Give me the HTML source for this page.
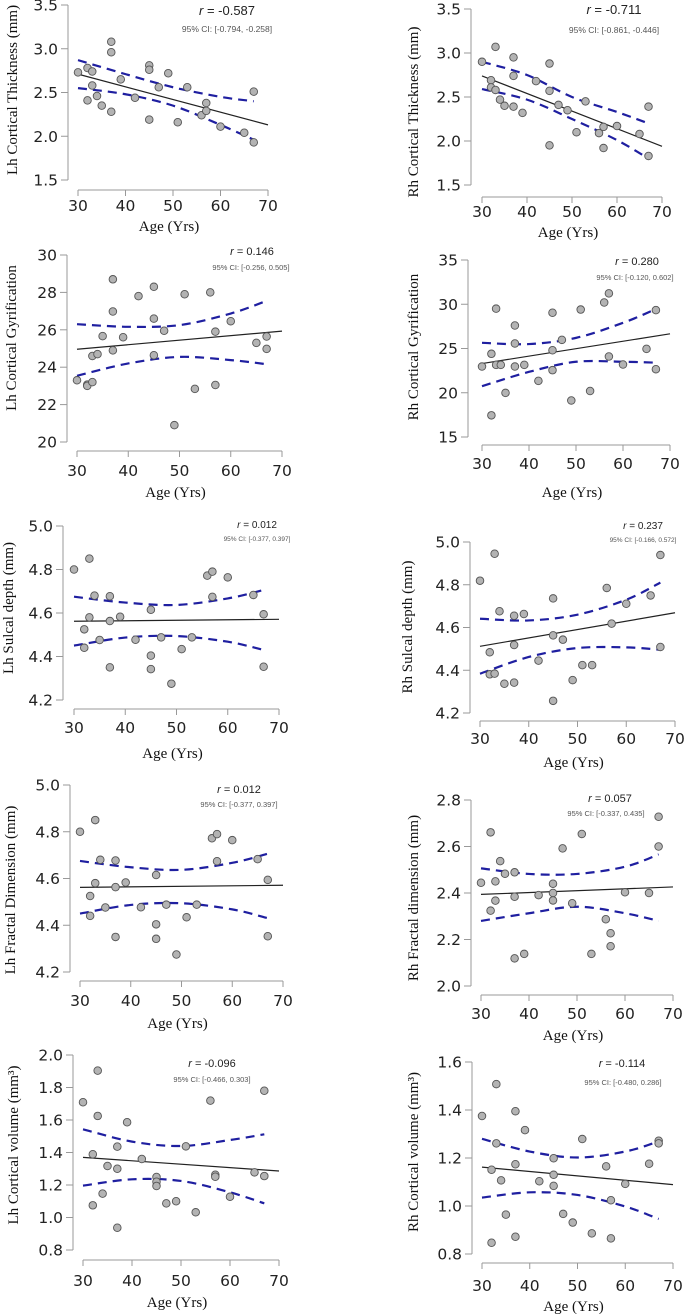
<!DOCTYPE html>
<html><head><meta charset="utf-8">
<style>
html,body{margin:0;padding:0;background:#fff;}
svg{display:block;}
.tk{font-family:"DejaVu Sans","Liberation Sans",sans-serif;font-size:15.5px;fill:#222;}
.tt{font-family:"Liberation Serif",serif;font-size:15px;fill:#111;}
.rl{font-family:"Liberation Sans",sans-serif;fill:#222;}
.ci{font-family:"Liberation Sans",sans-serif;fill:#555;}
</style></head>
<body>
<svg id="fig" width="685" height="1314" viewBox="0 0 685 1314" xmlns="http://www.w3.org/2000/svg"></svg>
<script>
// ---- data (ages in years, values per measure) ----
const ciAges = [30, 40, 50, 60, 67];
const xTicks = [30, 40, 50, 60, 70];

const p1Ages = [30,32,32,33,33,34,35,37,37,37,39,42,45,45,45,47,49,51,53,56,57,57,60,65,67,67];
const p1Vals = [2.73,2.78,2.41,2.74,2.58,2.46,2.35,3.08,2.96,2.28,2.65,2.44,2.81,2.76,2.19,2.56,2.72,2.16,2.56,2.24,2.38,2.29,2.11,2.04,1.93,2.51];
const p1Fit = [2.71, 2.13];
const p1Up = [2.87, 2.71, 2.56, 2.45, 2.40];
const p1Lo = [2.55, 2.48, 2.35, 2.13, 1.96];
const p1YTicks = [3.5, 3.0, 2.5, 2.0, 1.5];

const p2Ages = [30,32,32,33,33,34,35,37,37,37,39,42,45,45,45,47,49,51,53,56,57,57,60,65,67,67];
const p2Vals = [2.90,2.69,2.61,3.07,2.58,2.47,2.40,2.95,2.74,2.39,2.32,2.68,2.88,2.57,1.95,2.41,2.35,2.10,2.45,2.09,2.16,1.92,2.17,2.08,2.39,1.83];
const p2Fit = [2.74, 1.94];
const p2Up = [2.90, 2.75, 2.50, 2.33, 2.20];
const p2Lo = [2.59, 2.47, 2.25, 2.01, 1.80];
const p2YTicks = [3.5, 3.0, 2.5, 2.0, 1.5];

const p3Ages = [30,32,32,33,33,34,35,37,37,37,39,42,45,45,45,47,49,51,53,56,57,57,60,65,67,67];
const p3Vals = [23.3,23.07,23.0,23.2,24.6,24.7,25.66,28.7,26.98,24.9,25.6,27.8,28.3,26.6,24.64,25.95,20.9,27.9,22.84,28.0,25.9,23.05,26.46,25.3,25.64,24.98];
const p3Fit = [24.96, 25.93];
const p3Up = [26.3, 26.16, 26.25, 26.87, 27.55];
const p3Lo = [23.54, 24.2, 24.55, 24.38, 24.16];
const p3YTicks = [30, 28, 26, 24, 22, 20];

const p4Ages = [30,32,32,33,33,34,35,37,37,37,39,42,45,45,45,47,49,51,53,56,57,57,60,65,67,67];
const p4Vals = [22.96,24.4,17.45,29.5,23.15,23.15,19.98,27.6,25.57,22.96,23.15,21.34,29.04,24.8,22.55,25.98,19.13,29.4,20.2,30.2,31.23,24.1,23.19,24.96,29.34,22.66];
const p4Fit = [23.3, 26.66];
const p4Up = [25.64, 25.5, 26.2, 27.9, 29.45];
const p4Lo = [20.74, 22.36, 23.5, 23.5, 23.4];
const p4YTicks = [35, 30, 25, 20, 15];

const p5Ages = [30,32,32,33,33,34,35,37,37,37,39,42,45,45,45,47,49,51,53,56,57,57,60,65,67,67];
const p5Vals = [4.80,4.525,4.44,4.85,4.58,4.68,4.476,4.677,4.563,4.35,4.583,4.477,4.615,4.404,4.342,4.488,4.275,4.434,4.488,4.772,4.79,4.674,4.764,4.683,4.594,4.353];
const p5Fit = [4.562, 4.571];
const p5Up = [4.675, 4.648, 4.637, 4.667, 4.706];
const p5Lo = [4.45, 4.487, 4.494, 4.468, 4.43];
const p5YTicks = [5.0, 4.8, 4.6, 4.4, 4.2];

const p6Ages = [30,32,32,33,33,34,35,37,37,37,39,42,45,45,45,47,49,51,53,56,57,60,65,67,67];
const p6Vals = [4.819,4.484,4.381,4.945,4.384,4.676,4.337,4.655,4.518,4.342,4.663,4.445,4.736,4.563,4.257,4.543,4.354,4.424,4.424,4.785,4.618,4.711,4.75,4.939,4.509];
const p6Fit = [4.512, 4.669];
const p6Up = [4.641, 4.633, 4.66, 4.73, 4.81];
const p6Lo = [4.384, 4.462, 4.504, 4.507, 4.496];
const p6YTicks = [5.0, 4.8, 4.6, 4.4, 4.2];

const p7Ages = [30,32,32,33,33,34,35,37,37,37,39,42,45,45,45,47,49,51,53,56,57,57,60,65,67,67];
const p7Vals = [4.80,4.525,4.44,4.85,4.58,4.68,4.476,4.677,4.563,4.35,4.583,4.477,4.615,4.404,4.342,4.488,4.275,4.434,4.488,4.772,4.79,4.674,4.764,4.683,4.594,4.353];
const p7Fit = [4.562, 4.571];
const p7Up = [4.675, 4.648, 4.637, 4.667, 4.706];
const p7Lo = [4.45, 4.487, 4.494, 4.468, 4.43];
const p7YTicks = [5.0, 4.8, 4.6, 4.4, 4.2];

const p8Ages = [30,32,32,33,33,34,35,37,37,37,39,42,45,45,45,47,49,51,53,56,57,57,60,65,67,67];
const p8Vals = [2.444,2.324,2.661,2.45,2.367,2.537,2.483,2.489,2.384,2.119,2.138,2.391,2.44,2.40,2.368,2.592,2.356,2.654,2.138,2.287,2.227,2.171,2.403,2.40,2.728,2.60];
const p8Fit = [2.394, 2.426];
const p8Up = [2.506, 2.482, 2.482, 2.513, 2.566];
const p8Lo = [2.28, 2.313, 2.341, 2.313, 2.28];
const p8YTicks = [2.8, 2.6, 2.4, 2.2, 2.0];

const p9Ages = [30,32,32,33,33,34,35,37,37,37,39,42,45,45,45,47,49,51,53,56,57,57,60,65,67,67];
const p9Vals = [1.709,1.389,1.075,1.904,1.625,1.147,1.317,1.436,1.30,0.937,1.586,1.36,1.249,1.22,1.194,1.087,1.10,1.438,1.032,1.719,1.263,1.251,1.128,1.278,1.255,1.78];
const p9Fit = [1.37, 1.286];
const p9Up = [1.543, 1.467, 1.44, 1.477, 1.512];
const p9Lo = [1.196, 1.235, 1.225, 1.155, 1.087];
const p9YTicks = [2.0, 1.8, 1.6, 1.4, 1.2, 1.0, 0.8];

const p10Ages = [30,32,32,33,33,34,35,37,37,37,39,42,45,45,45,47,49,51,53,56,57,57,60,65,67,67];
const p10Vals = [1.375,1.151,0.847,1.508,1.261,1.107,0.964,1.395,1.174,0.872,1.316,1.103,1.199,1.13,1.084,0.967,0.931,1.279,0.886,1.165,1.024,0.865,1.092,1.176,1.272,1.261];
const p10Fit = [1.162, 1.089];
const p10Up = [1.28, 1.227, 1.202, 1.227, 1.269];
const p10Lo = [1.035, 1.057, 1.046, 0.998, 0.946];
const p10YTicks = [1.6, 1.4, 1.2, 1.0, 0.8];

// ---- layout (pixel geometry) ----
const NS = 'http://www.w3.org/2000/svg';
const svg = document.getElementById('fig');
function mk(tag, attrs, parent, text) {
  const e = document.createElementNS(NS, tag);
  for (const k in attrs) e.setAttribute(k, attrs[k]);
  if (text !== undefined) e.textContent = text;
  parent.appendChild(e);
  return e;
}

const panels = [
  {key:'lh-cortical-thickness', ages:p1Ages, vals:p1Vals, fit:p1Fit, up:p1Up, lo:p1Lo, yt:p1YTicks, ydec:1,
   ax:68, x0:78, x1:268, yTop:5, yBot:180, xLine:190, xLab:211, ageY:231, title:'Lh Cortical Thickness (mm)', tX:12, tY:90,
   r:'-0.587', ci:'[-0.794, -0.258]', rX:227, rY:15, ciX:227, ciY:32, rs:13, cs:8.5},
  {key:'rh-cortical-thickness', ages:p2Ages, vals:p2Vals, fit:p2Fit, up:p2Up, lo:p2Lo, yt:p2YTicks, ydec:1,
   ax:471, x0:482, x1:662, yTop:9, yBot:185, xLine:197, xLab:217, ageY:237, title:'Rh Cortical Thickness (mm)', tX:413, tY:112,
   r:'-0.711', ci:'[-0.861, -0.446]', rX:614, rY:14, ciX:614, ciY:33, rs:13, cs:8.5},
  {key:'lh-cortical-gyrification', ages:p3Ages, vals:p3Vals, fit:p3Fit, up:p3Up, lo:p3Lo, yt:p3YTicks, ydec:0,
   ax:67, x0:77, x1:282, yTop:255, yBot:442, xLine:451, xLab:476, ageY:497, title:'Lh Cortical Gyrification', tX:11, tY:338,
   r:'0.146', ci:'[-0.256, 0.505]', rX:252, rY:255, ciX:251, ciY:270, rs:11, cs:7.5},
  {key:'rh-cortical-gyrification', ages:p4Ages, vals:p4Vals, fit:p4Fit, up:p4Up, lo:p4Lo, yt:p4YTicks, ydec:0,
   ax:468, x0:482, x1:670, yTop:260, yBot:437, xLine:445, xLab:469, ageY:497, title:'Rh Cortical Gyrification', tX:413, tY:347,
   r:'0.280', ci:'[-0.120, 0.602]', rX:637, rY:265, ciX:635, ciY:280, rs:11, cs:7.5},
  {key:'lh-sulcal-depth', ages:p5Ages, vals:p5Vals, fit:p5Fit, up:p5Up, lo:p5Lo, yt:p5YTicks, ydec:1,
   ax:63, x0:74, x1:279, yTop:526, yBot:700, xLine:709, xLab:733, ageY:758, title:'Lh Sulcal depth (mm)', tX:8, tY:608,
   r:'0.012', ci:'[-0.377, 0.397]', rX:257, rY:528, ciX:257, ciY:541, rs:10, cs:6.5},
  {key:'rh-sulcal-depth', ages:p6Ages, vals:p6Vals, fit:p6Fit, up:p6Up, lo:p6Lo, yt:p6YTicks, ydec:1,
   ax:470, x0:480, x1:675, yTop:542, yBot:713, xLine:721, xLab:744, ageY:767, title:'Rh Sulcal depth (mm)', tX:407, tY:627,
   r:'0.237', ci:'[-0.166, 0.572]', rX:643, rY:529, ciX:643, ciY:542, rs:10, cs:6.5},
  {key:'lh-fractal-dimension', ages:p7Ages, vals:p7Vals, fit:p7Fit, up:p7Up, lo:p7Lo, yt:p7YTicks, ydec:1,
   ax:70, x0:80, x1:283, yTop:785, yBot:972, xLine:981, xLab:1006, ageY:1028, title:'Lh Fractal Dimension (mm)', tX:10, tY:890,
   r:'0.012', ci:'[-0.377, 0.397]', rX:239, rY:793, ciX:239, ciY:807, rs:11, cs:7.5},
  {key:'rh-fractal-dimension', ages:p8Ages, vals:p8Vals, fit:p8Fit, up:p8Up, lo:p8Lo, yt:p8YTicks, ydec:1,
   ax:471, x0:481, x1:673, yTop:800, yBot:986, xLine:995, xLab:1019, ageY:1040, title:'Rh Fractal dimension (mm)', tX:413, tY:898,
   r:'0.057', ci:'[-0.337, 0.435]', rX:610, rY:802, ciX:606, ciY:816, rs:11, cs:7.5},
  {key:'lh-cortical-volume', ages:p9Ages, vals:p9Vals, fit:p9Fit, up:p9Up, lo:p9Lo, yt:p9YTicks, ydec:1,
   ax:73, x0:83, x1:279, yTop:1055, yBot:1250, xLine:1260, xLab:1286, ageY:1307, title:'Lh Cortical volume (mm³)', tX:13, tY:1145,
   r:'-0.096', ci:'[-0.466, 0.303]', rX:212, rY:1067, ciX:212, ciY:1082, rs:11, cs:7.5},
  {key:'rh-cortical-volume', ages:p10Ages, vals:p10Vals, fit:p10Fit, up:p10Up, lo:p10Lo, yt:p10YTicks, ydec:1,
   ax:472, x0:482, x1:673, yTop:1062, yBot:1254, xLine:1263, xLab:1291, ageY:1311, title:'Rh Cortical volume (mm³)', tX:413, tY:1152,
   r:'-0.114', ci:'[-0.480, 0.286]', rX:622, rY:1067, ciX:623, ciY:1085, rs:11, cs:7.5}
];

panels.forEach(p => {
  const g = mk('g', {}, svg);
  
  
  const yMax = p.yt[0], yMin = p.yt[p.yt.length - 1];
  const X = a => p.x0 + (a - 30) / 40 * (p.x1 - p.x0);
  const Y = v => p.yTop + (yMax - v) / (yMax - yMin) * (p.yBot - p.yTop);

  const ya = mk('g', {}, g);
  
  
  mk('line', {x1:p.ax, y1:Y(yMax), x2:p.ax, y2:Y(yMin), stroke:'#999', 'stroke-width':1}, ya);
  p.yt.forEach(t => {
    mk('line', {x1:p.ax - 7, y1:Y(t), x2:p.ax, y2:Y(t), stroke:'#999', 'stroke-width':1}, ya);
    const tl = mk('text', {x:p.ax - 10, y:Y(t) + 5.5, 'text-anchor':'end', class:'tk'}, ya, t.toFixed(p.ydec));
    
    
  });
  const xa = mk('g', {}, g);
  
  
  mk('line', {x1:X(30), y1:p.xLine, x2:X(70), y2:p.xLine, stroke:'#999', 'stroke-width':1}, xa);
  xTicks.forEach(t => {
    mk('line', {x1:X(t), y1:p.xLine, x2:X(t), y2:p.xLine + 6, stroke:'#999', 'stroke-width':1}, xa);
    const tl = mk('text', {x:X(t), y:p.xLab, 'text-anchor':'middle', class:'tk'}, xa, String(t));
    
    
  });
  const at = mk('text', {x:(X(30) + X(70)) / 2 - 4, y:p.ageY, 'text-anchor':'middle', class:'tt'}, g, 'Age (Yrs)');
  
  
  const yt = mk('text', {x:p.tX + 5, y:p.tY, 'text-anchor':'middle', class:'tt', transform:'rotate(-90 ' + (p.tX + 5) + ' ' + p.tY + ')'}, g, p.title);
  
  

  function curve(arr) {
    const pts = ciAges.map((a, i) => [X(a), Y(arr[i])]);
    let d = 'M' + pts[0][0] + ',' + pts[0][1];
    for (let i = 0; i < pts.length - 1; i++) {
      const p0 = pts[Math.max(i - 1, 0)], p1 = pts[i], p2 = pts[i + 1], p3 = pts[Math.min(i + 2, pts.length - 1)];
      const c1x = p1[0] + (p2[0] - p0[0]) / 6, c1y = p1[1] + (p2[1] - p0[1]) / 6;
      const c2x = p2[0] - (p3[0] - p1[0]) / 6, c2y = p2[1] - (p3[1] - p1[1]) / 6;
      d += ' C' + c1x + ',' + c1y + ' ' + c2x + ',' + c2y + ' ' + p2[0] + ',' + p2[1];
    }
    return d;
  }
  const cu = mk('path', {d:curve(p.up), fill:'none', stroke:'#1f1fa0', 'stroke-width':2.2, 'stroke-dasharray':'9,6'}, g);
  
  
  const cl = mk('path', {d:curve(p.lo), fill:'none', stroke:'#1f1fa0', 'stroke-width':2.2, 'stroke-dasharray':'9,6'}, g);
  
  

  const fl = mk('line', {x1:X(30), y1:Y(p.fit[0]), x2:X(70), y2:Y(p.fit[1]), stroke:'#222', 'stroke-width':1.2}, g);
  
  

  p.ages.forEach((a, i) => {
    const c = mk('circle', {cx:X(a), cy:Y(p.vals[i]), r:3.8, fill:'#b3b3b3', stroke:'#555', 'stroke-width':0.9}, g);
    
    
  });

  const rt = mk('text', {x:p.rX, y:p.rY, 'text-anchor':'middle', class:'rl', 'font-size':p.rs}, g);
  
  
  mk('tspan', {'font-style':'italic'}, rt, 'r');
  mk('tspan', {}, rt, ' = ' + p.r);
  const ct = mk('text', {x:p.ciX, y:p.ciY, 'text-anchor':'middle', class:'ci', 'font-size':p.cs}, g, '95% CI: ' + p.ci);
  
  
});
</script>
</body></html>
